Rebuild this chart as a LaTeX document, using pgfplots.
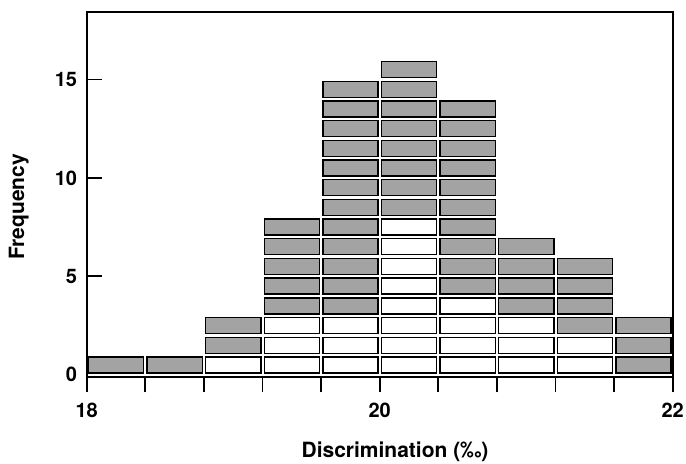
\documentclass[border=0pt]{standalone}
\usepackage{fontspec}
\setmainfont{TeX Gyre Heros}
\usepackage{pgfplots}
\pgfplotsset{compat=1.18}
\definecolor{cellgray}{rgb}{0.64,0.64,0.64}
\pgfdeclareplotmark{cell}{%
  \pgfpathrectangle{\pgfqpoint{-27.6bp}{-8bp}}{\pgfqpoint{55.2bp}{16bp}}%
  \pgfusepathqfillstroke}
\begin{document}
\begin{tikzpicture}
\begin{axis}[
  scale only axis, width=586bp, height=365.6bp,
  xmin=18, xmax=22, ymin=-0.13, ymax=18.44,
  clip=false,
  axis line style={line width=1.8bp},
  xtick={18,18.4,18.8,19.2,19.6,20,20.4,20.8,21.2,21.6,22},
  xticklabels={18,,,,,20,,,,,22},
  ytick={5,10,15},
  extra y ticks={0},
  extra y tick style={major tick length=0pt},
  xtick pos=bottom, ytick pos=left,
  xtick align=outside, ytick align=inside,
  major tick length=15bp,
  tick style={line width=1.8bp, black},
  /pgf/number format/assume math mode=true,
  tick label style={font=\bfseries\fontsize{20bp}{24bp}\selectfont, inner sep=0pt},
  yticklabel style={xshift=-9.5bp},
  xticklabel style={yshift=-11bp},
  xlabel={Discrimination (‰)},
  ylabel={Frequency},
  every axis x label/.style={at={(axis description cs:0.526,-0.204)}, anchor=center, font=\bfseries\fontsize{21bp}{25bp}\selectfont},
  every axis y label/.style={at={(axis description cs:-0.116,0.466)}, anchor=center, rotate=90, font=\bfseries\fontsize{21bp}{25bp}\selectfont},
]
\addplot[only marks, mark=cell, mark options={fill=white, draw=black, line width=1.4bp}] coordinates {
  (19.0,0.5)
  (19.4,0.5) (19.4,1.5) (19.4,2.5)
  (19.8,0.5) (19.8,1.5) (19.8,2.5)
  (20.2,0.5) (20.2,1.5) (20.2,2.5) (20.2,3.5) (20.2,4.5) (20.2,5.5) (20.2,6.5) (20.2,7.5)
  (20.6,0.5) (20.6,1.5) (20.6,2.5) (20.6,3.5)
  (21.0,0.5) (21.0,1.5) (21.0,2.5)
  (21.4,0.5) (21.4,1.5)
};
\addplot[only marks, mark=cell, mark options={fill=cellgray, draw=black, line width=1.4bp}] coordinates {
  (18.2,0.5)
  (18.6,0.5)
  (19.0,1.5) (19.0,2.5)
  (19.4,3.5) (19.4,4.5) (19.4,5.5) (19.4,6.5) (19.4,7.5)
  (19.8,3.5) (19.8,4.5) (19.8,5.5) (19.8,6.5) (19.8,7.5) (19.8,8.5) (19.8,9.5) (19.8,10.5) (19.8,11.5) (19.8,12.5) (19.8,13.5) (19.8,14.5)
  (20.2,8.5) (20.2,9.5) (20.2,10.5) (20.2,11.5) (20.2,12.5) (20.2,13.5) (20.2,14.5) (20.2,15.5)
  (20.6,4.5) (20.6,5.5) (20.6,6.5) (20.6,7.5) (20.6,8.5) (20.6,9.5) (20.6,10.5) (20.6,11.5) (20.6,12.5) (20.6,13.5)
  (21.0,3.5) (21.0,4.5) (21.0,5.5) (21.0,6.5)
  (21.4,2.5) (21.4,3.5) (21.4,4.5) (21.4,5.5)
  (21.8,0.5) (21.8,1.5) (21.8,2.5)
};
\coordinate (sw) at (rel axis cs:0,0);
\coordinate (ne) at (rel axis cs:1,1);
\end{axis}
\pgfresetboundingbox
\path[use as bounding box] ([shift={(-86.7bp,-86.7bp)}]sw) rectangle ([shift={(13.3bp,11.7bp)}]ne);
\end{tikzpicture}
\end{document}
